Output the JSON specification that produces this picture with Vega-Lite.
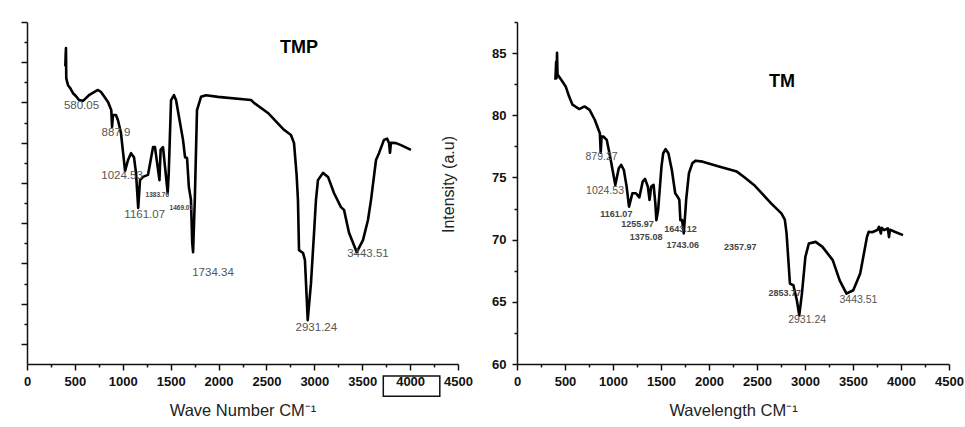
{
  "$schema": "https://vega.github.io/schema/vega-lite/v6.json",
  "padding": {"left": 20, "top": 21, "right": 0, "bottom": 0},
  "autosize": {"type": "pad"},
  "background": "white",
  "spacing": 59,
  "bounds": "flush",
  "config": {
    "font": "Liberation Sans",
    "view": {"stroke": null},
    "axis": {
      "grid": false,
      "domainColor": "#111",
      "domainWidth": 1.5,
      "tickColor": "#111",
      "tickWidth": 1.5,
      "labelFont": "Liberation Sans",
      "labelFontWeight": "bold",
      "labelFontSize": 13,
      "labelColor": "#111",
      "titleFont": "Liberation Sans",
      "titleFontWeight": "normal",
      "titleFontSize": 16.5,
      "titleColor": "#222"
    }
  },
  "datasets": {
    "tmp": [
      {"wn": 400, "i": 74}, {"wn": 404, "i": 77}, {"wn": 407, "i": 78.5}, {"wn": 410, "i": 71}, {"wn": 428, "i": 69.3},
      {"wn": 450, "i": 68.6}, {"wn": 480, "i": 67.3}, {"wn": 510, "i": 66.6}, {"wn": 543, "i": 65.6}, {"wn": 585, "i": 65.4}, {"wn": 647, "i": 66.8},
      {"wn": 741, "i": 68.1}, {"wn": 773, "i": 67.6}, {"wn": 846, "i": 65.1}, {"wn": 880, "i": 63.1},
      {"wn": 888, "i": 58.9}, {"wn": 898, "i": 61.9}, {"wn": 929, "i": 61.9}, {"wn": 950, "i": 60.6},
      {"wn": 981, "i": 57.4}, {"wn": 1024, "i": 48.0}, {"wn": 1055, "i": 50.7}, {"wn": 1086, "i": 52.4},
      {"wn": 1117, "i": 51.4}, {"wn": 1138, "i": 47.5}, {"wn": 1161, "i": 38.8}, {"wn": 1180, "i": 45.7},
      {"wn": 1211, "i": 46.5}, {"wn": 1263, "i": 47.0}, {"wn": 1316, "i": 53.9}, {"wn": 1336, "i": 53.9},
      {"wn": 1383, "i": 45.7}, {"wn": 1395, "i": 53.2}, {"wn": 1420, "i": 53.9}, {"wn": 1441, "i": 49.0},
      {"wn": 1469, "i": 42.5}, {"wn": 1480, "i": 47.5}, {"wn": 1504, "i": 65.6}, {"wn": 1535, "i": 66.8},
      {"wn": 1556, "i": 65.6}, {"wn": 1629, "i": 55.7}, {"wn": 1650, "i": 51.4}, {"wn": 1671, "i": 51.2},
      {"wn": 1690, "i": 44.0}, {"wn": 1712, "i": 40.8}, {"wn": 1725, "i": 30.1}, {"wn": 1734, "i": 27.8},
      {"wn": 1752, "i": 40.8}, {"wn": 1775, "i": 63.1}, {"wn": 1817, "i": 66.4}, {"wn": 1869, "i": 66.8},
      {"wn": 1994, "i": 66.4}, {"wn": 2339, "i": 65.6}, {"wn": 2370, "i": 64.9}, {"wn": 2516, "i": 62.4},
      {"wn": 2683, "i": 58.2}, {"wn": 2756, "i": 56.9}, {"wn": 2788, "i": 54.9}, {"wn": 2815, "i": 47.0},
      {"wn": 2829, "i": 40.8}, {"wn": 2840, "i": 28.3}, {"wn": 2882, "i": 27.6}, {"wn": 2902, "i": 25.8},
      {"wn": 2931, "i": 10.9}, {"wn": 2965, "i": 20.1}, {"wn": 2997, "i": 32.6}, {"wn": 3017, "i": 40.8},
      {"wn": 3038, "i": 45.7}, {"wn": 3090, "i": 47.5}, {"wn": 3143, "i": 46.5}, {"wn": 3205, "i": 42.5},
      {"wn": 3278, "i": 39.0}, {"wn": 3310, "i": 38.3}, {"wn": 3362, "i": 32.6}, {"wn": 3443, "i": 27.8},
      {"wn": 3508, "i": 30.8}, {"wn": 3560, "i": 35.8}, {"wn": 3592, "i": 40.8}, {"wn": 3644, "i": 50.7},
      {"wn": 3675, "i": 52.4}, {"wn": 3727, "i": 55.7}, {"wn": 3760, "i": 56.0}, {"wn": 3780, "i": 54.9},
      {"wn": 3790, "i": 52.5}, {"wn": 3800, "i": 55.0}, {"wn": 3853, "i": 54.9}, {"wn": 3905, "i": 54.4},
      {"wn": 4009, "i": 53.2}
    ],
    "tmpLabels": [
      {"wn": 569, "i": 64.1, "t": "580.05"},
      {"wn": 929, "i": 57.5, "t": "887.9"},
      {"wn": 992, "i": 46.8, "t": "1024.53"},
      {"wn": 1229, "i": 37.0, "t": "1161.07"},
      {"wn": 1942, "i": 22.7, "t": "1734.34"},
      {"wn": 3021, "i": 9.0, "t": "2931.24"},
      {"wn": 3560, "i": 27.3, "t": "3443.51"}
    ],
    "tmpTiny": [
      {"wn": 1361, "i": 42.0, "t": "1383.76"},
      {"wn": 1611, "i": 38.7, "t": "1469.01"}
    ],
    "tmpName": [{"wn": 2840, "i": 78.5, "t": "TMP"}],
    "tm": [
      {"wn": 400, "i": 82.86}, {"wn": 408, "i": 84.3}, {"wn": 412, "i": 83.0}, {"wn": 417, "i": 85.02},
      {"wn": 422, "i": 83.3}, {"wn": 435, "i": 83.13}, {"wn": 471, "i": 82.73}, {"wn": 507, "i": 82.32},
      {"wn": 542, "i": 81.52}, {"wn": 578, "i": 80.85}, {"wn": 649, "i": 80.5}, {"wn": 703, "i": 80.71},
      {"wn": 756, "i": 80.44}, {"wn": 810, "i": 79.64}, {"wn": 863, "i": 78.56}, {"wn": 872, "i": 77.0},
      {"wn": 881, "i": 78.29}, {"wn": 899, "i": 78.29}, {"wn": 935, "i": 78.02}, {"wn": 970, "i": 76.68},
      {"wn": 1024, "i": 74.4}, {"wn": 1060, "i": 75.74}, {"wn": 1085, "i": 76.01}, {"wn": 1113, "i": 75.6},
      {"wn": 1142, "i": 74.26}, {"wn": 1167, "i": 72.65}, {"wn": 1202, "i": 73.73}, {"wn": 1238, "i": 73.73},
      {"wn": 1274, "i": 73.4}, {"wn": 1309, "i": 74.66}, {"wn": 1334, "i": 74.88}, {"wn": 1363, "i": 74.26},
      {"wn": 1381, "i": 73.19}, {"wn": 1398, "i": 74.26}, {"wn": 1423, "i": 74.4}, {"wn": 1441, "i": 72.92},
      {"wn": 1452, "i": 71.57}, {"wn": 1470, "i": 72.38}, {"wn": 1505, "i": 75.87}, {"wn": 1523, "i": 76.95},
      {"wn": 1548, "i": 77.27}, {"wn": 1577, "i": 76.95}, {"wn": 1613, "i": 75.6}, {"wn": 1648, "i": 73.73},
      {"wn": 1673, "i": 73.45}, {"wn": 1691, "i": 73.19}, {"wn": 1702, "i": 71.57}, {"wn": 1720, "i": 71.57},
      {"wn": 1737, "i": 70.5}, {"wn": 1755, "i": 72.38}, {"wn": 1762, "i": 73.19}, {"wn": 1791, "i": 75.34},
      {"wn": 1827, "i": 76.15}, {"wn": 1862, "i": 76.35}, {"wn": 1934, "i": 76.27}, {"wn": 2112, "i": 75.87},
      {"wn": 2290, "i": 75.47}, {"wn": 2362, "i": 75.06}, {"wn": 2469, "i": 74.4}, {"wn": 2647, "i": 72.92},
      {"wn": 2754, "i": 72.11}, {"wn": 2790, "i": 71.6}, {"wn": 2808, "i": 70.5}, {"wn": 2843, "i": 66.47},
      {"wn": 2879, "i": 66.33}, {"wn": 2915, "i": 65.12}, {"wn": 2940, "i": 63.91}, {"wn": 2968, "i": 65.66},
      {"wn": 3004, "i": 68.61}, {"wn": 3040, "i": 69.69}, {"wn": 3111, "i": 69.82}, {"wn": 3182, "i": 69.42},
      {"wn": 3289, "i": 68.35}, {"wn": 3361, "i": 66.73}, {"wn": 3432, "i": 65.66}, {"wn": 3503, "i": 65.93},
      {"wn": 3575, "i": 67.27}, {"wn": 3646, "i": 70.23}, {"wn": 3664, "i": 70.63}, {"wn": 3700, "i": 70.6},
      {"wn": 3753, "i": 70.77}, {"wn": 3771, "i": 71.03}, {"wn": 3790, "i": 70.5}, {"wn": 3800, "i": 70.95},
      {"wn": 3824, "i": 70.77}, {"wn": 3863, "i": 70.9}, {"wn": 3875, "i": 70.2}, {"wn": 3885, "i": 70.8},
      {"wn": 3934, "i": 70.63}, {"wn": 4021, "i": 70.36}
    ],
    "tmLabels": [
      {"wn": 881, "i": 76.68, "t": "879.27"},
      {"wn": 917, "i": 73.94, "t": "1024.53"},
      {"wn": 3022, "i": 63.56, "t": "2931.24"},
      {"wn": 3557, "i": 65.12, "t": "3443.51"}
    ],
    "tmSmall": [
      {"wn": 1035, "i": 72.06, "t": "1161.07"},
      {"wn": 1256, "i": 71.25, "t": "1255.97"},
      {"wn": 1345, "i": 70.18, "t": "1375.08"},
      {"wn": 1702, "i": 70.82, "t": "1643.12"},
      {"wn": 1727, "i": 69.56, "t": "1743.06"},
      {"wn": 2326, "i": 69.42, "t": "2357.97"},
      {"wn": 2790, "i": 65.71, "t": "2853.77"}
    ],
    "tmName": [{"wn": 2761, "i": 82.66, "t": "TM"}]
  },
  "hconcat": [
    {
      "width": 431,
      "height": 342,
      "resolve": {"axis": {"x": "independent", "y": "independent"}},
      "layer": [
        {
          "data": {"name": "tmp"},
          "mark": {"type": "line", "stroke": "#000", "strokeWidth": 2.6, "strokeJoin": "round"},
          "encoding": {
            "x": {
              "field": "wn", "type": "quantitative",
              "scale": {"domain": [0, 4500], "nice": false, "zero": false},
              "axis": {
                "orient": "bottom",
                "values": [0, 500, 1000, 1500, 2000, 2500, 3000, 3500, 4000, 4500],
                "format": "d",
                "tickSize": 6, "labelPadding": 5, "labelFlush": false,
                "title": "Wave Number CM⁻¹", "titleBaseline": "middle", "titleY": 46
              }
            },
            "y": {
              "field": "i", "type": "quantitative",
              "scale": {"domain": [0, 85], "nice": false, "zero": false},
              "axis": {
                "orient": "left",
                "values": [5, 15, 25, 35, 45, 55, 65, 75, 85],
                "tickSize": 6, "labels": false, "title": null
              }
            }
          }
        },
        {
          "data": {"name": "tmpLabels"},
          "mark": {"type": "text", "font": "Liberation Sans", "fontSize": 11.5, "fill": "#555555", "align": "center", "baseline": "middle"},
          "encoding": {
            "x": {
              "field": "wn", "type": "quantitative",
              "axis": {
                "orient": "bottom",
                "values": [250, 750, 1250, 1750, 2250, 2750, 3250, 3750, 4250],
                "tickSize": 3, "labels": false, "domain": false, "title": null
              }
            },
            "y": {
              "field": "i", "type": "quantitative",
              "axis": {
                "orient": "left",
                "values": [10, 20, 30, 40, 50, 60, 70, 80],
                "tickSize": 3, "labels": false, "domain": false, "title": null
              }
            },
            "text": {"field": "t", "type": "nominal"}
          }
        },
        {
          "data": {"name": "tmpTiny"},
          "mark": {"type": "text", "font": "Liberation Sans", "fontSize": 6.5, "fontWeight": "bold", "fill": "#444444", "align": "center", "baseline": "middle"},
          "encoding": {
            "x": {"field": "wn", "type": "quantitative", "axis": null},
            "y": {"field": "i", "type": "quantitative", "axis": null},
            "text": {"field": "t", "type": "nominal"}
          }
        },
        {
          "data": {"name": "tmpName"},
          "mark": {"type": "text", "font": "Liberation Sans", "fontSize": 18, "fontWeight": "bold", "fill": "#000000", "align": "center", "baseline": "middle"},
          "encoding": {
            "x": {"field": "wn", "type": "quantitative", "axis": null},
            "y": {"field": "i", "type": "quantitative", "axis": null},
            "text": {"field": "t", "type": "nominal"}
          }
        },
        {
          "data": {"values": [{}]},
          "mark": {"type": "rect", "fill": null, "fillOpacity": 0, "stroke": "#111", "strokeWidth": 1.5, "clip": false},
          "encoding": {
            "x": {"datum": 3720, "type": "quantitative", "axis": null},
            "x2": {"datum": 4310},
            "y": {"datum": -3.0, "type": "quantitative", "axis": null},
            "y2": {"datum": -8.0}
          }
        }
      ]
    },
    {
      "width": 432,
      "height": 342,
      "resolve": {"axis": {"x": "independent", "y": "independent"}},
      "layer": [
        {
          "data": {"name": "tm"},
          "mark": {"type": "line", "stroke": "#000", "strokeWidth": 2.6, "strokeJoin": "round"},
          "encoding": {
            "x": {
              "field": "wn", "type": "quantitative",
              "scale": {"domain": [0, 4500], "nice": false, "zero": false},
              "axis": {
                "orient": "bottom",
                "values": [0, 500, 1000, 1500, 2000, 2500, 3000, 3500, 4000, 4500],
                "format": "d",
                "tickSize": 6, "labelPadding": 5, "labelFlush": false,
                "title": "Wavelength CM⁻¹", "titleBaseline": "middle", "titleY": 46
              }
            },
            "y": {
              "field": "i", "type": "quantitative",
              "scale": {"domain": [60, 87.5], "nice": false, "zero": false},
              "axis": {
                "orient": "left",
                "values": [60, 65, 70, 75, 80, 85],
                "tickSize": 5, "labelPadding": 6,
                "title": "Intensity (a.u)", "titleFontSize": 16, "titleBaseline": "middle",
                "titleX": -69, "titleY": 162
              }
            }
          }
        },
        {
          "data": {"name": "tmLabels"},
          "mark": {"type": "text", "font": "Liberation Sans", "fontSize": 10.5, "fill": "#555555", "align": "center", "baseline": "middle"},
          "encoding": {
            "x": {
              "field": "wn", "type": "quantitative",
              "axis": {
                "orient": "bottom",
                "values": [250, 750, 1250, 1750, 2250, 2750, 3250, 3750, 4250],
                "tickSize": 3, "labels": false, "domain": false, "title": null
              }
            },
            "y": {
              "field": "i", "type": "quantitative",
              "axis": {
                "orient": "left",
                "values": [62.5, 67.5, 72.5, 77.5, 82.5, 87.5],
                "tickSize": 3, "labels": false, "domain": false, "title": null
              }
            },
            "text": {"field": "t", "type": "nominal"}
          }
        },
        {
          "data": {"name": "tmSmall"},
          "mark": {"type": "text", "font": "Liberation Sans", "fontSize": 9, "fontWeight": "bold", "fill": "#444444", "align": "center", "baseline": "middle"},
          "encoding": {
            "x": {"field": "wn", "type": "quantitative", "axis": null},
            "y": {"field": "i", "type": "quantitative", "axis": null},
            "text": {"field": "t", "type": "nominal"}
          }
        },
        {
          "data": {"name": "tmName"},
          "mark": {"type": "text", "font": "Liberation Sans", "fontSize": 18, "fontWeight": "bold", "fill": "#000000", "align": "center", "baseline": "middle"},
          "encoding": {
            "x": {"field": "wn", "type": "quantitative", "axis": null},
            "y": {"field": "i", "type": "quantitative", "axis": null},
            "text": {"field": "t", "type": "nominal"}
          }
        }
      ]
    }
  ]
}
